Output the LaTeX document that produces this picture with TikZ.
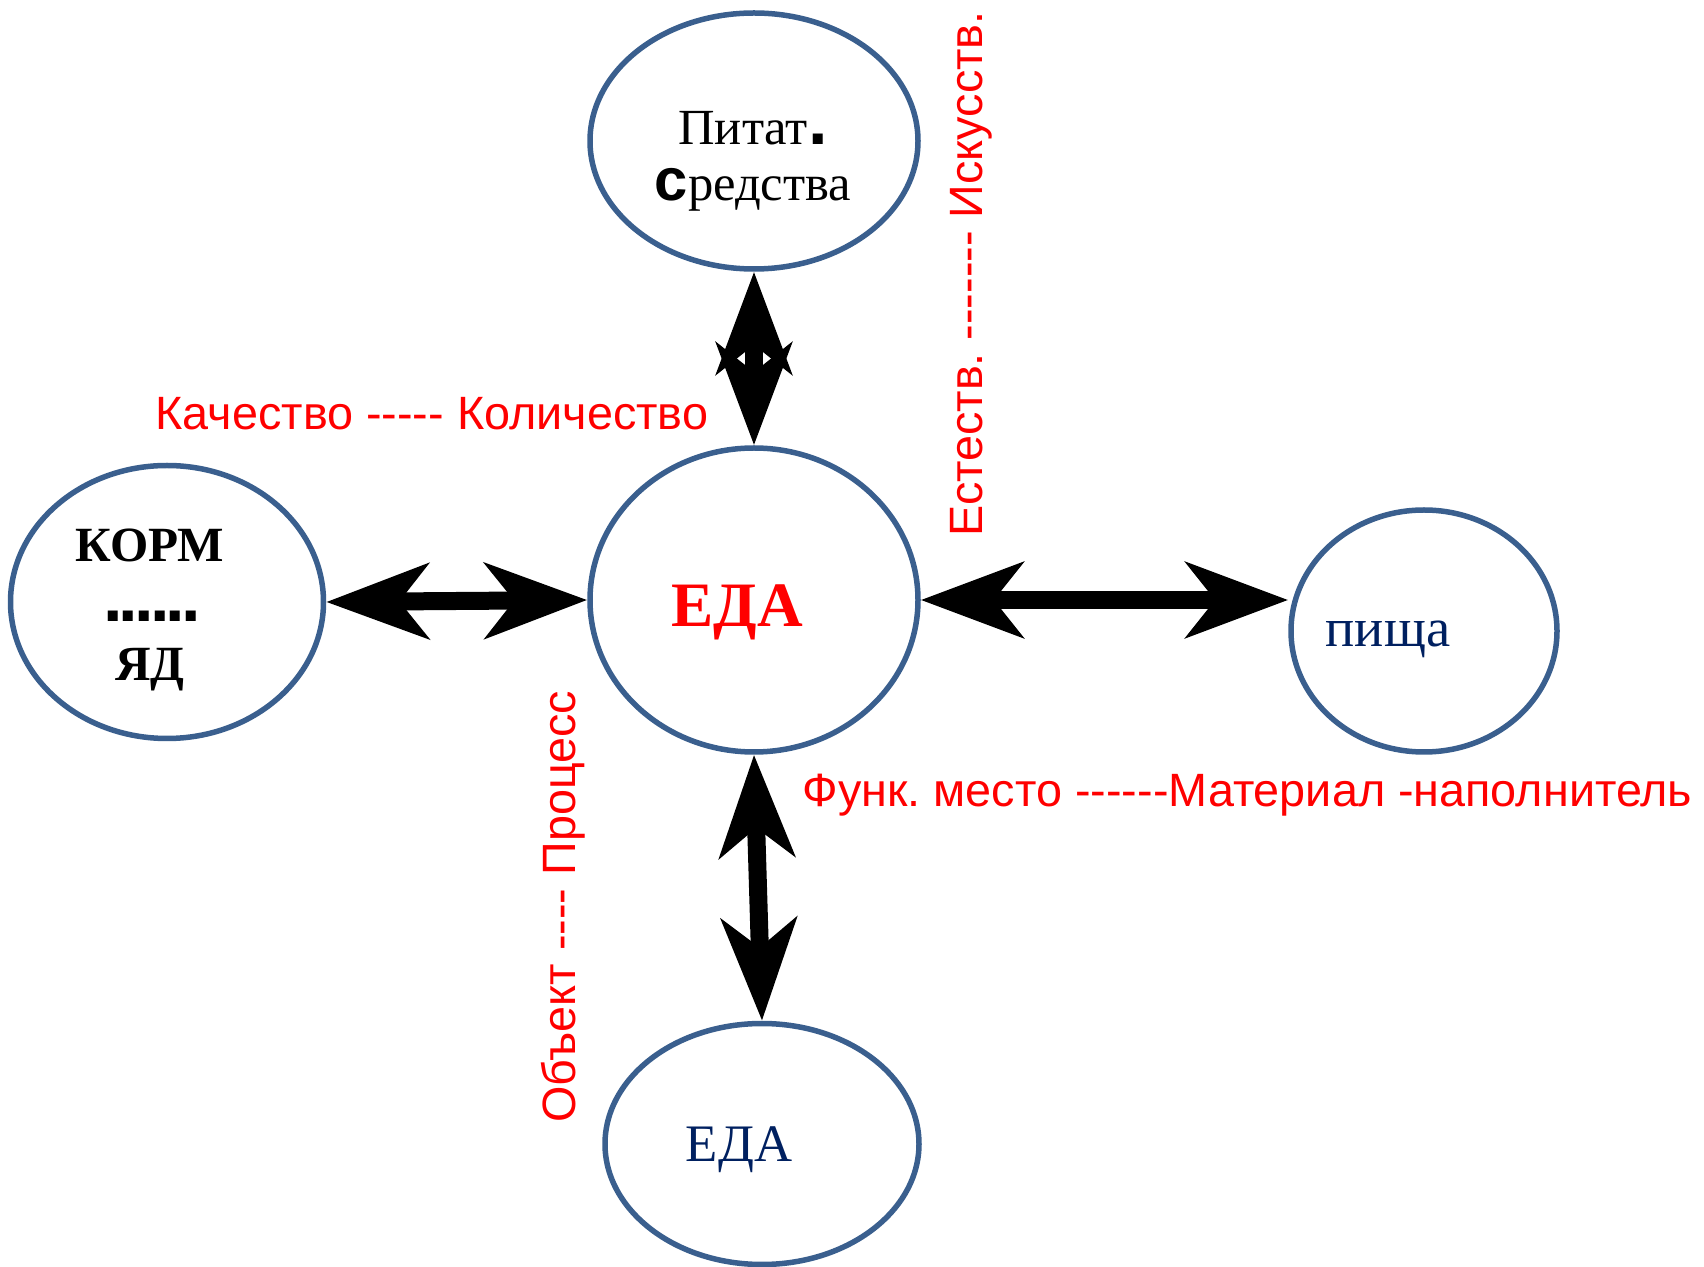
\documentclass[tikz,border=0pt]{standalone}
\usepackage{fontspec}
\setmainfont{Liberation Serif}
\newfontfamily\labelfont{Liberation Sans}
\usetikzlibrary{arrows.meta, shapes.geometric}
\frenchspacing

\definecolor{ringblue}{HTML}{3A5F8E}
\definecolor{navytext}{HTML}{002060}
% a run of hyphens that stays a run of hyphens
\newcommand{\dashrun}[1]{\foreach \k in {1,...,#1}{-\kern0pt}}
% the square dots under KORM
\newcommand{\squaredots}[1]{{\labelfont\fontsize{20}{16.8}\selectfont\foreach \k in {1,...,#1}{.\kern-1.1pt}}}

\begin{document}
\begin{tikzpicture}[
                    x=0.1mm, y=-0.1mm,
                    ring/.style={ellipse, draw=ringblue, line width=0.55mm, inner sep=0pt},
                    twoway/.style={line width=1.8mm,
                      {Stealth[length=10.2mm, width=7.5mm, inset=2.9mm]}-{Stealth[length=10.2mm, width=7.5mm, inset=2.9mm]}},
                    redlabel/.style={text=red, font=\labelfont\fontsize{13.3}{16}\selectfont, inner sep=0pt},
                    word/.style={inner sep=0pt, anchor=base}
                   ]
  \useasboundingbox (0,0) rectangle (1704,1267);

  % ellipses
  \node [ring, minimum width=32.8mm, minimum height=25.6mm] (pitat) at (754,141) {};
  \node [ring, minimum width=32.8mm, minimum height=30.4mm] (eda) at (754,600) {};
  \node [ring, minimum width=31.3mm, minimum height=27.3mm] (korm) at (167,602) {};
  \node [ring, minimum width=26.6mm, minimum height=24.2mm] (pischa) at (1424,631) {};
  \node [ring, minimum width=31.4mm, minimum height=24.1mm] (eda2) at (762,1144) {};

  % texts in the ellipses
  \node [word, font=\fontsize{14.4}{17}\selectfont] (pitat1) at (753,145) {Питат{\labelfont\bfseries\fontsize{20}{20}\selectfont .}};
  \node [word, font=\fontsize{14.4}{17}\selectfont] (pitat2) at (753,201) {{\labelfont\bfseries\fontsize{17}{18}\selectfont с}редства};
  \node [inner sep=0pt, align=center, font=\bfseries\fontsize{14}{16.8}\selectfont] (korm-txt) at (150,610)
        {КОРМ\\\squaredots{6}\\ЯД};
  \node [word, text=red, font=\bfseries\fontsize{18}{21}\selectfont] (eda-txt) at (737,627) {ЕДА};
  \node [word, text=navytext, font=\fontsize{15.5}{18}\selectfont] (pischa-txt) at (1388,647) {пища};
  \node [word, text=navytext, font=\fontsize{15}{18}\selectfont] (eda2-txt) at (739,1161) {ЕДА};

  % arrows
  \draw [twoway] (pitat.south) -- (eda.north);
  \draw [twoway] (korm.east) -- (eda.west);
  \draw [twoway] (eda.east) -- (eda.east -| pischa.west);
  \draw [twoway] (eda.south) -- (eda2.north);

  % red labels
  \node [redlabel, anchor=base west] (kach) at (155,430) {Качество \dashrun{5} Количество};
  \node [redlabel, anchor=base west] (funk) at (802,807) {Функ. место \dashrun{6}Материал \dashrun{1}наполнитель};
  \node [redlabel, rotate=90] (estestv) at (971,274) {Естеств. \dashrun{7} Искусств.};
  \node [redlabel, rotate=90] (obekt) at (563,907) {Объект \dashrun{4} Процесс};
\end{tikzpicture}
\end{document}
